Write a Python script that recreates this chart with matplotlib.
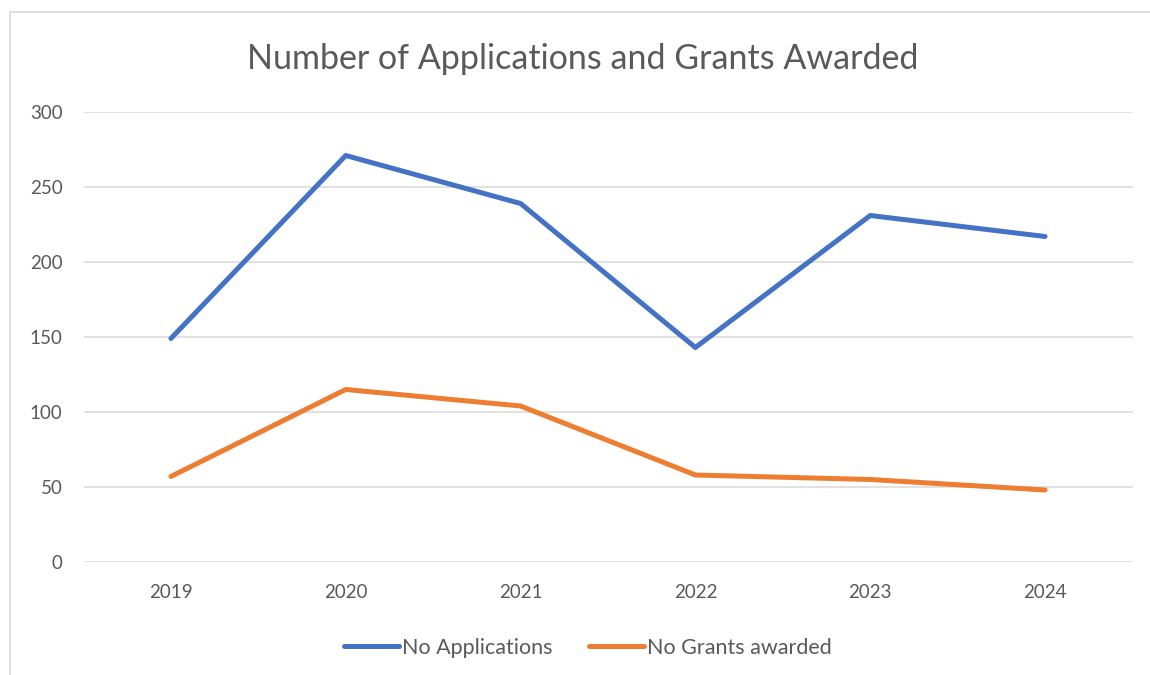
import matplotlib
matplotlib.use("Agg")
import matplotlib.pyplot as plt
from matplotlib.patches import Rectangle

# data
years = ["2019", "2020", "2021", "2022", "2023", "2024"]
applications = [149, 271, 239, 143, 231, 217]
grants = [57, 115, 104, 58, 55, 48]

blue = "#4472C4"
orange = "#ED7D31"
text_grey = "#595959"
grid_grey = "#D9D9D9"

plt.rcParams["font.family"] = ["Lato", "DejaVu Sans"]

fig = plt.figure(figsize=(11.5, 6.75), dpi=100)

# chart frame
fig.patches.append(Rectangle((10 / 1150, -0.1), 1.2, 1 - 12 / 675 + 0.1,
                             transform=fig.transFigure, fill=False,
                             edgecolor=grid_grey, linewidth=1.2))

ax = fig.add_axes([83.5 / 1150, 1 - 562 / 675, 1049 / 1150, 450 / 675])

x = range(len(years))
ax.plot(x, applications, color=blue, linewidth=3.6, solid_capstyle="round",
        solid_joinstyle="round", label="No Applications", zorder=3)
ax.plot(x, grants, color=orange, linewidth=3.6, solid_capstyle="round",
        solid_joinstyle="round", label="No Grants awarded", zorder=3)

ax.set_xlim(-0.5, 5.5)
ax.set_ylim(0, 300)
ax.set_yticks(range(0, 301, 50))
ax.set_xticks(list(x))
ax.set_xticklabels(years)

ax.grid(axis="y", color=grid_grey, linewidth=1.1)
ax.set_axisbelow(True)
for s in ax.spines.values():
    s.set_visible(False)
ax.tick_params(axis="both", length=0, colors=text_grey, labelsize=13.5)
ax.tick_params(axis="y", pad=15)
ax.tick_params(axis="x", pad=16)

fig.text(583 / 1150, 1 - 59 / 675, "Number of Applications and Grants Awarded",
         ha="center", va="center", fontsize=24.5, color=text_grey)

fig.legend(loc="center", bbox_to_anchor=(588 / 1150, 1 - 648 / 675), ncol=2,
           frameon=False, fontsize=15.5, handlelength=2.55, handletextpad=0.15,
           columnspacing=1.7, labelcolor=text_grey)

fig.savefig("out.png", dpi=100)
